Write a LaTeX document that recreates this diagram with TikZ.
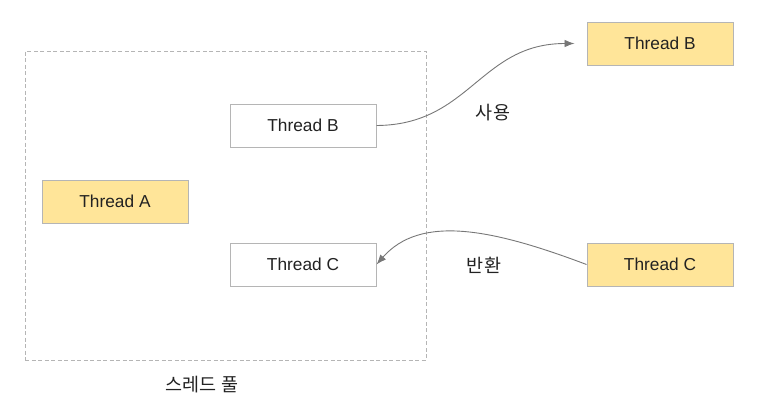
\documentclass[tikz,border=0pt]{standalone}
\usepackage{fontspec}
\setmainfont{Liberation Sans}
\newfontfamily\krfont{Noto Sans CJK KR}
\usetikzlibrary{arrows.meta}
\definecolor{boxfill}{HTML}{FFE599}
\definecolor{boxline}{HTML}{B5B5B5}
\definecolor{arrowcol}{HTML}{777777}
\definecolor{txt}{HTML}{222222}
\begin{document}
\begin{tikzpicture}[x=1pt,y=-1pt,
  threadbox/.style={draw=boxline, line width=1pt, minimum width=146pt, minimum height=43pt, inner sep=0pt, font=\fontsize{17.3}{20}\selectfont, text=txt},
  yellowbox/.style={threadbox, fill=boxfill},
  whitebox/.style={threadbox, fill=white},
  link/.style={draw=arrowcol, line width=0.9pt, -{Latex[length=10pt,width=7.5pt]}},
  krlabel/.style={font=\krfont\fontsize{18.5}{21}\selectfont, text=txt, inner sep=0pt}]
\useasboundingbox (0,0) rectangle (783,418);
\node[draw=boxline, dash pattern=on 4pt off 2.5pt, line width=1pt, minimum width=401pt, minimum height=309pt, inner sep=0pt] (pool) at (225.5,205.5) {};
\node[yellowbox] (A) at (115,201.5) {Thread A};
\node[whitebox] (Bin) at (303,125.5) {Thread B};
\node[whitebox] (Cin) at (303,264.5) {Thread C};
\node[yellowbox] (Bout) at (660,43.5) {Thread B};
\node[yellowbox] (Cout) at (660,264.5) {Thread C};
\node[krlabel] (use) at (493,113) {사용};
\node[krlabel] (ret) at (484,265) {반환};
\node[krlabel] (poollabel) at (202,385) {스레드 풀};
\draw[link, shorten >=12pt] (Bin.east) .. controls (470,125) and (480,43.5) .. (Bout.west);
\draw[link] (Cout.west) .. controls (490,228) and (420,215) .. (Cin.east);
\end{tikzpicture}
\end{document}
